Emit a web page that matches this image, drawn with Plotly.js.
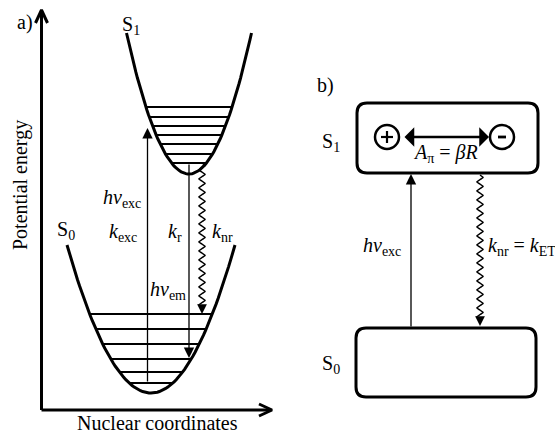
<!DOCTYPE html>
<html>
<head>
<meta charset="utf-8">
<script src="https://cdn.plot.ly/plotly-3.0.1.min.js"></script>
<style>html,body{margin:0;padding:0;background:#fff;}#chart{width:555px;height:434px;}</style>
</head>
<body>
<div id="chart"></div>
<script>
// ---- diagram data (diagram units = figure pixels, y grows downward) ----
// Potential wells: [centerX, minY, halfWidth, topY]
const wellS1 = [189, 174, 62.5, 33];
const wellS0 = [151, 393, 84, 245];
// Vibrational levels (energy positions)
const levelsS1 = [107, 117, 126, 135, 144, 154, 163];
const levelsS0 = [314, 329, 344, 359, 372, 383];
// Transitions in panel a: [x, fromY, toY]
const excA = [147.5, 383, 128];
const radA = [189, 163, 358];
const nonradA = [202, 163, 314];
// Panel b boxes: [x0, y0, x1, y1]
const boxS1 = [357, 103, 538, 173];
const boxS0 = [356, 328, 536, 397];
const excB = [411, 328, 174];
const nonradB = [480, 175, 326];
// Charges in S1 box: [cx, cy, r]
const chargePlus = [387, 137, 12];
const chargeMinus = [502, 137, 12];
const dipoleArrow = [403, 489, 137];

const black = '#000';
const traces = [];
const shapes = [];
const ann = [];
const serif = '"Liberation Serif", "Times New Roman", Times, serif';

function line(xs, ys, w) {
  traces.push({type: 'scatter', mode: 'lines', x: xs, y: ys, line: {color: black, width: w}, hoverinfo: 'skip', showlegend: false});
}
function well(p) {
  const [cx, ym, hw, yt] = p, xs = [], ys = [];
  for (let i = 0; i <= 80; i++) {
    const t = -1 + 2 * i / 80;
    xs.push(cx + t * hw); ys.push(ym - (ym - yt) * t * t);
  }
  line(xs, ys, 3);
}
function halfAt(p, y) {
  const [cx, ym, hw, yt] = p;
  return hw * Math.sqrt((ym - y) / (ym - yt));
}
function levels(p, lv) {
  lv.forEach(y => { const h = halfAt(p, y); line([p[0] - h, p[0] + h], [y, y], 2); });
}
function arrow(x, y0, y1, w, size) {
  ann.push({x: x, y: y1, ax: x, ay: y0, xref: 'x', yref: 'y', axref: 'x', ayref: 'y', text: '', showarrow: true,
    arrowhead: 2, arrowsize: size || 1.5, arrowwidth: w || 1.3, arrowcolor: black});
}
function wavy(t) {
  const [x, y0, y1] = t, xs = [], ys = [], yEnd = y1 - 9, per = 9, amp = 3;
  const n = Math.round((yEnd - y0) * 4);
  for (let i = 0; i <= n; i++) {
    const y = y0 + (yEnd - y0) * i / n;
    xs.push(x + amp * Math.sin(2 * Math.PI * (y - y0) / per)); ys.push(y);
  }
  line(xs, ys, 1.5);
  arrow(x, yEnd - 1, y1, 1.3, 1.5);
}
function label(x, y, txt, opts) {
  ann.push(Object.assign({x: x, y: y, xref: 'x', yref: 'y', text: txt, showarrow: false,
    font: {family: serif, size: 20, color: black}}, opts || {}));
}
function rrect(b, r) {
  const [x0, y0, x1, y1] = b;
  return `M${x0 + r},${y0} L${x1 - r},${y0} Q${x1},${y0} ${x1},${y0 + r} L${x1},${y1 - r} Q${x1},${y1} ${x1 - r},${y1} ` +
    `L${x0 + r},${y1} Q${x0},${y1} ${x0},${y1 - r} L${x0},${y0 + r} Q${x0},${y0} ${x0 + r},${y0} Z`;
}

// ---- panel a ----
line([41.5, 41.5], [11, 410], 3);
line([41.5, 271], [410, 410], 3);
line([35.5, 41.5, 47.5], [23, 10, 23], 3);
line([259, 272, 259], [404, 410, 416], 3);
well(wellS1); well(wellS0);
levels(wellS1, levelsS1); levels(wellS0, levelsS0);
arrow(excA[0], excA[1], excA[2], 1.3, 1.6);
arrow(radA[0], radA[1], radA[2], 1.3, 1.6);
wavy(nonradA);

label(25, 22, 'a)');
label(131, 25, 'S<sub>1</sub>');
label(66, 230, 'S<sub>0</sub>');
label(143, 198, '<i>hv</i><sub>exc</sub>', {xanchor: 'right'});
label(139, 232, '<i>k</i><sub>exc</sub>', {xanchor: 'right'});
label(184, 232, '<i>k</i><sub>r</sub>', {xanchor: 'right'});
label(210, 232, '<i>k</i><sub>nr</sub>', {xanchor: 'left'});
label(188, 290, '<i>hv</i><sub>em</sub>', {xanchor: 'right'});
label(157, 423, 'Nuclear coordinates');
label(20, 185, 'Potential energy', {textangle: -90});

// ---- panel b ----
shapes.push({type: 'path', xref: 'x', yref: 'y', path: rrect(boxS1, 10), line: {color: black, width: 3}});
shapes.push({type: 'path', xref: 'x', yref: 'y', path: rrect(boxS0, 10), line: {color: black, width: 3}});
[chargePlus, chargeMinus].forEach(c => shapes.push({type: 'circle', xref: 'x', yref: 'y',
  x0: c[0] - c[2], x1: c[0] + c[2], y0: c[1] - c[2], y1: c[1] + c[2], line: {color: black, width: 2.5}}));
line([chargePlus[0] - 6, chargePlus[0] + 6], [chargePlus[1], chargePlus[1]], 2.2);
line([chargePlus[0], chargePlus[0]], [chargePlus[1] - 6, chargePlus[1] + 6], 2.2);
line([chargeMinus[0] - 4, chargeMinus[0] + 4], [chargeMinus[1], chargeMinus[1]], 2.8);
ann.push({x: dipoleArrow[1], y: dipoleArrow[2], ax: dipoleArrow[0], ay: dipoleArrow[2], xref: 'x', yref: 'y', axref: 'x', ayref: 'y',
  text: '', showarrow: true, arrowside: 'end+start', arrowhead: 1, arrowsize: 1.3, arrowwidth: 2.5, arrowcolor: black});
arrow(excB[0], excB[1], excB[2], 1.3, 1.6);
wavy(nonradB);

label(325, 85, 'b)');
label(331, 142, 'S<sub>1</sub>');
label(331, 364, 'S<sub>0</sub>');
label(445, 153, '<i>A</i><sub>π</sub> = <i>βR</i>');
label(403, 246, '<i>hv</i><sub>exc</sub>', {xanchor: 'right'});
label(486, 246, '<i>k</i><sub>nr</sub> = <i>k</i><sub>ET</sub>', {xanchor: 'left'});

const layout = {
  width: 555, height: 434,
  margin: {l: 0, r: 0, t: 0, b: 0},
  paper_bgcolor: '#fff', plot_bgcolor: '#fff',
  font: {family: serif},
  xaxis: {range: [0, 555], visible: false, fixedrange: true},
  yaxis: {range: [434, 0], visible: false, fixedrange: true},
  shapes: shapes, annotations: ann, showlegend: false
};
Plotly.newPlot('chart', traces, layout, {staticPlot: true, displayModeBar: false});
</script>
</body>
</html>
